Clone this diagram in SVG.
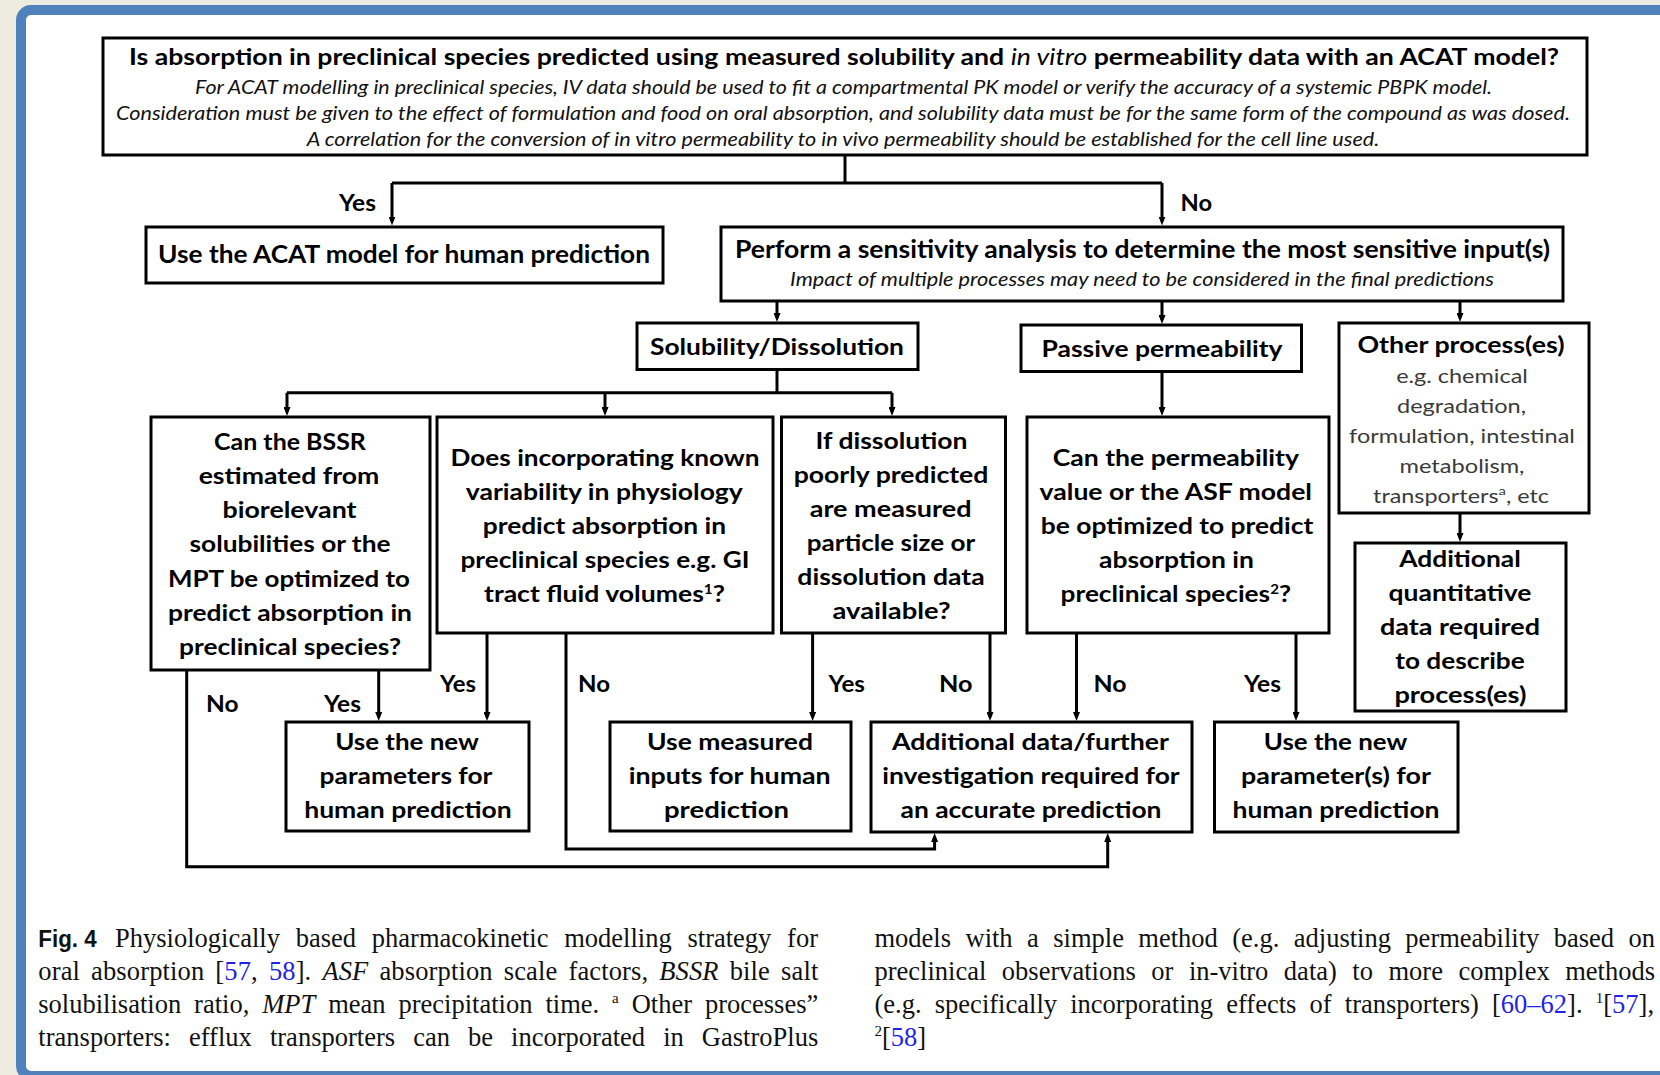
<svg xmlns="http://www.w3.org/2000/svg" width="1660" height="1075" viewBox="0 0 1660 1075">
  <defs>
    <style>
      .bx { fill: #fff; stroke: #000; stroke-width: 3; }
      .ln { fill: none; stroke: #000; stroke-width: 3; }
      .ar { marker-end: url(#ah); }
      .t { font-family: Lato, "Open Sans", "Liberation Sans", sans-serif; font-weight: 700; font-size: 22.5px; fill: #000; text-anchor: middle; }
      .big { font-size: 24px; }
      .it { font-style: italic; font-weight: 400; font-size: 18.5px; fill: #111; }
      .lg { font-weight: 400; font-size: 19px; fill: #3a3a3a; }
      .lbl { font-family: Lato, "Open Sans", "Liberation Sans", sans-serif; font-weight: 700; font-size: 22px; fill: #000; }
      .cap { font-family: "Liberation Serif", "Times New Roman", serif; font-size: 26.5px; fill: #111; }
      .fig { font-family: "Liberation Sans", Arial, sans-serif; font-weight: 700; font-size: 23px; fill: #111; }
      .ref { fill: #2323e6; }
      .em { font-style: italic; }
    </style>
    <marker id="ah" viewBox="0 0 9 7" refX="4.5" refY="3.5" markerWidth="9" markerHeight="7" markerUnits="userSpaceOnUse" orient="auto">
      <path d="M0,0 L9,3.5 L0,7 z" fill="#000"/>
    </marker>
  </defs>

  <!-- page background and framed panel -->
  <rect x="0" y="0" width="1660" height="1075" fill="#EEECE1"/>
  <rect x="21" y="10" width="1700" height="1066" rx="10" fill="#fff" stroke="#4F81BD" stroke-width="10"/>

  <!-- connectors -->
  <g id="connectors">
    <path class="ln" d="M845,155 V183"/>
    <path class="ln" d="M392,183 H1162"/>
    <path class="ln ar" d="M392,183 V221"/>
    <path class="ln ar" d="M1162,183 V221"/>

    <path class="ln ar" d="M777,301 V317.5"/>
    <path class="ln ar" d="M1162,301 V319.5"/>
    <path class="ln ar" d="M1460,301 V317.5"/>

    <path class="ln" d="M777,369.5 V392.7"/>
    <path class="ln" d="M287,392.7 H892"/>
    <path class="ln ar" d="M287,392.7 V411.5"/>
    <path class="ln ar" d="M605,392.7 V411.5"/>
    <path class="ln ar" d="M892,392.7 V411.5"/>

    <path class="ln ar" d="M1162,371.5 V411.5"/>
    <path class="ln ar" d="M1460,513 V537.5"/>

    <path class="ln ar" d="M378.7,670 V716.5"/>
    <path class="ln ar" d="M186.7,670 V866.7 H1107.7 V837.5"/>
    <path class="ln ar" d="M487,633 V716.5"/>
    <path class="ln ar" d="M566,633 V849 H934.6 V837.5"/>
    <path class="ln ar" d="M812.6,633 V716.5"/>
    <path class="ln ar" d="M990,633 V716.5"/>
    <path class="ln ar" d="M1076.5,633 V716.5"/>
    <path class="ln ar" d="M1296,633 V716.5"/>
  </g>

  <!-- branch labels -->
  <g id="labels">
    <text class="lbl" x="339" y="211" textLength="37" lengthAdjust="spacingAndGlyphs">Yes</text>
    <text class="lbl" x="1180.5" y="211" textLength="31.5" lengthAdjust="spacingAndGlyphs">No</text>
    <text class="lbl" x="206" y="711.5" textLength="32.5" lengthAdjust="spacingAndGlyphs">No</text>
    <text class="lbl" x="324" y="711.5" textLength="37" lengthAdjust="spacingAndGlyphs">Yes</text>
    <text class="lbl" x="440" y="692" textLength="36" lengthAdjust="spacingAndGlyphs">Yes</text>
    <text class="lbl" x="578" y="692" textLength="32" lengthAdjust="spacingAndGlyphs">No</text>
    <text class="lbl" x="828.5" y="692" textLength="36.5" lengthAdjust="spacingAndGlyphs">Yes</text>
    <text class="lbl" x="939" y="692" textLength="33.5" lengthAdjust="spacingAndGlyphs">No</text>
    <text class="lbl" x="1093.5" y="692" textLength="33" lengthAdjust="spacingAndGlyphs">No</text>
    <text class="lbl" x="1244" y="692" textLength="37" lengthAdjust="spacingAndGlyphs">Yes</text>
  </g>

  <!-- question at the root -->
  <g id="root-question">
    <rect class="bx" x="103" y="38" width="1484" height="117"/>
    <text class="t" x="844" y="65" textLength="1430" lengthAdjust="spacingAndGlyphs">Is absorption in preclinical species predicted using measured solubility and <tspan font-style="italic" font-weight="400">in vitro</tspan> permeability data with an ACAT model?</text>
    <text class="t it" x="843.5" y="94" textLength="1297" lengthAdjust="spacingAndGlyphs">For ACAT modelling in preclinical species, IV data should be used to fit a compartmental PK model or verify the accuracy of a systemic PBPK model.</text>
    <text class="t it" x="843" y="120" textLength="1454" lengthAdjust="spacingAndGlyphs">Consideration must be given to the effect of formulation and food on oral absorption, and solubility data must be for the same form of the compound as was dosed.</text>
    <text class="t it" x="843" y="146" textLength="1072.5" lengthAdjust="spacingAndGlyphs">A correlation for the conversion of in vitro permeability to in vivo permeability should be established for the cell line used.</text>
  </g>

  <g id="use-acat">
    <rect class="bx" x="146" y="227" width="517" height="56"/>
    <text class="t big" x="404" y="263" textLength="492" lengthAdjust="spacingAndGlyphs">Use the ACAT model for human prediction</text>
  </g>

  <g id="sensitivity">
    <rect class="bx" x="721" y="227" width="842" height="74"/>
    <text class="t big" x="1142.5" y="258" textLength="815" lengthAdjust="spacingAndGlyphs">Perform a sensitivity analysis to determine the most sensitive input(s)</text>
    <text class="t it" x="1142" y="286" textLength="704" lengthAdjust="spacingAndGlyphs">Impact of multiple processes may need to be considered in the final predictions</text>
  </g>

  <g id="solubility">
    <rect class="bx" x="637" y="323" width="281" height="46.5"/>
    <text class="t" x="777" y="355" textLength="254" lengthAdjust="spacingAndGlyphs">Solubility/Dissolution</text>
  </g>

  <g id="passive">
    <rect class="bx" x="1021" y="325" width="280.5" height="46.5"/>
    <text class="t" x="1162" y="357" textLength="241" lengthAdjust="spacingAndGlyphs">Passive permeability</text>
  </g>

  <g id="other">
    <rect class="bx" x="1339" y="323" width="250" height="190"/>
    <text class="t" x="1461" y="352.7" textLength="207" lengthAdjust="spacingAndGlyphs">Other process(es)</text>
    <text class="t lg" x="1462" y="383.3" textLength="131.7" lengthAdjust="spacingAndGlyphs">e.g. chemical</text>
    <text class="t lg" x="1461.5" y="413.3" textLength="129" lengthAdjust="spacingAndGlyphs">degradation,</text>
    <text class="t lg" x="1462" y="443" textLength="225.8" lengthAdjust="spacingAndGlyphs">formulation, intestinal</text>
    <text class="t lg" x="1462" y="473.3" textLength="125" lengthAdjust="spacingAndGlyphs">metabolism,</text>
    <text class="t lg" x="1461" y="503.3" textLength="176" lengthAdjust="spacingAndGlyphs">transporters<tspan font-size="12" dy="-8">a</tspan><tspan dy="8">, etc</tspan></text>
  </g>

  <g id="additional-quantitative">
    <rect class="bx" x="1355" y="543" width="211" height="168"/>
    <text class="t" x="1460" y="567" textLength="121.5" lengthAdjust="spacingAndGlyphs">Additional</text>
    <text class="t" x="1460" y="601" textLength="143" lengthAdjust="spacingAndGlyphs">quantitative</text>
    <text class="t" x="1460" y="635" textLength="160" lengthAdjust="spacingAndGlyphs">data required</text>
    <text class="t" x="1460" y="669" textLength="129.4" lengthAdjust="spacingAndGlyphs">to describe</text>
    <text class="t" x="1460.4" y="703" textLength="132" lengthAdjust="spacingAndGlyphs">process(es)</text>
  </g>

  <g id="bssr-mpt">
    <rect class="bx" x="151" y="417" width="279" height="253"/>
    <text class="t" x="290" y="450" textLength="151.8" lengthAdjust="spacingAndGlyphs">Can the BSSR</text>
    <text class="t" x="289" y="484" textLength="180.7" lengthAdjust="spacingAndGlyphs">estimated from</text>
    <text class="t" x="289.5" y="518" textLength="134" lengthAdjust="spacingAndGlyphs">biorelevant</text>
    <text class="t" x="290" y="552" textLength="201" lengthAdjust="spacingAndGlyphs">solubilities or the</text>
    <text class="t" x="289" y="586.5" textLength="242" lengthAdjust="spacingAndGlyphs">MPT be optimized to</text>
    <text class="t" x="290" y="620.5" textLength="244" lengthAdjust="spacingAndGlyphs">predict absorption in</text>
    <text class="t" x="290" y="654.5" textLength="222" lengthAdjust="spacingAndGlyphs">preclinical species?</text>
  </g>

  <g id="physiology-variability">
    <rect class="bx" x="437" y="417" width="336" height="216"/>
    <text class="t" x="605" y="466" textLength="309" lengthAdjust="spacingAndGlyphs">Does incorporating known</text>
    <text class="t" x="604.3" y="500" textLength="277" lengthAdjust="spacingAndGlyphs">variability in physiology</text>
    <text class="t" x="604.4" y="534" textLength="243.3" lengthAdjust="spacingAndGlyphs">predict absorption in</text>
    <text class="t" x="605" y="568" textLength="289" lengthAdjust="spacingAndGlyphs">preclinical species e.g. GI</text>
    <text class="t" x="604.5" y="602" textLength="241" lengthAdjust="spacingAndGlyphs">tract fluid volumes<tspan font-size="13" dy="-8">1</tspan><tspan dy="8">?</tspan></text>
  </g>

  <g id="dissolution-data">
    <rect class="bx" x="781.5" y="417" width="224" height="216"/>
    <text class="t" x="891.5" y="449" textLength="152" lengthAdjust="spacingAndGlyphs">If dissolution</text>
    <text class="t" x="891" y="483" textLength="194.7" lengthAdjust="spacingAndGlyphs">poorly predicted</text>
    <text class="t" x="890.6" y="517" textLength="161.8" lengthAdjust="spacingAndGlyphs">are measured</text>
    <text class="t" x="891" y="551" textLength="168.5" lengthAdjust="spacingAndGlyphs">particle size or</text>
    <text class="t" x="891" y="585" textLength="187.3" lengthAdjust="spacingAndGlyphs">dissolution data</text>
    <text class="t" x="891.5" y="619" textLength="118" lengthAdjust="spacingAndGlyphs">available?</text>
  </g>

  <g id="permeability-asf">
    <rect class="bx" x="1027" y="417" width="302" height="216"/>
    <text class="t" x="1175.8" y="466" textLength="246.3" lengthAdjust="spacingAndGlyphs">Can the permeability</text>
    <text class="t" x="1175.8" y="500" textLength="272.4" lengthAdjust="spacingAndGlyphs">value or the ASF model</text>
    <text class="t" x="1177" y="534" textLength="272.4" lengthAdjust="spacingAndGlyphs">be optimized to predict</text>
    <text class="t" x="1176.5" y="568" textLength="155" lengthAdjust="spacingAndGlyphs">absorption in</text>
    <text class="t" x="1175.8" y="602" textLength="230.4" lengthAdjust="spacingAndGlyphs">preclinical species<tspan font-size="13" dy="-8">2</tspan><tspan dy="8">?</tspan></text>
  </g>

  <g id="use-new-parameters">
    <rect class="bx" x="286" y="722" width="243" height="109"/>
    <text class="t" x="407" y="750" textLength="143.7" lengthAdjust="spacingAndGlyphs">Use the new</text>
    <text class="t" x="406" y="784" textLength="172.8" lengthAdjust="spacingAndGlyphs">parameters for</text>
    <text class="t" x="408" y="818" textLength="207.6" lengthAdjust="spacingAndGlyphs">human prediction</text>
  </g>

  <g id="use-measured-inputs">
    <rect class="bx" x="610" y="722" width="241" height="109"/>
    <text class="t" x="730" y="750" textLength="166" lengthAdjust="spacingAndGlyphs">Use measured</text>
    <text class="t" x="729.7" y="784" textLength="202" lengthAdjust="spacingAndGlyphs">inputs for human</text>
    <text class="t" x="726.5" y="818" textLength="125" lengthAdjust="spacingAndGlyphs">prediction</text>
  </g>

  <g id="further-investigation">
    <rect class="bx" x="871" y="722" width="321" height="110"/>
    <text class="t" x="1030.5" y="750" textLength="277" lengthAdjust="spacingAndGlyphs">Additional data/further</text>
    <text class="t" x="1031" y="784" textLength="297.4" lengthAdjust="spacingAndGlyphs">investigation required for</text>
    <text class="t" x="1031" y="818" textLength="261" lengthAdjust="spacingAndGlyphs">an accurate prediction</text>
  </g>

  <g id="use-new-parameters-permeability">
    <rect class="bx" x="1214.5" y="722" width="243.5" height="110"/>
    <text class="t" x="1335.5" y="750" textLength="143.5" lengthAdjust="spacingAndGlyphs">Use the new</text>
    <text class="t" x="1336" y="784" textLength="190" lengthAdjust="spacingAndGlyphs">parameter(s) for</text>
    <text class="t" x="1336" y="818" textLength="207" lengthAdjust="spacingAndGlyphs">human prediction</text>
  </g>

  <!-- figure caption, two justified columns -->
  <g id="caption">
    <text class="fig" x="38.3" y="947" textLength="58.4" lengthAdjust="spacingAndGlyphs">Fig. 4</text>
    <text class="cap" x="115" y="947" word-spacing="9.1" textLength="703">Physiologically based pharmacokinetic modelling strategy for</text>
    <text class="cap" x="38.3" y="980" word-spacing="4.3" textLength="780">oral absorption [<tspan class="ref">57</tspan>, <tspan class="ref">58</tspan>]. <tspan class="em">ASF</tspan> absorption scale factors, <tspan class="em">BSSR</tspan> bile salt</text>
    <text class="cap" x="38.3" y="1013" word-spacing="6.3" textLength="780">solubilisation ratio, <tspan class="em">MPT</tspan> mean precipitation time. <tspan font-size="15" dy="-10">a</tspan><tspan dy="10"> Other processes”</tspan></text>
    <text class="cap" x="38.3" y="1046" word-spacing="11.4" textLength="780">transporters: efflux transporters can be incorporated in GastroPlus</text>

    <text class="cap" x="874.5" y="947" word-spacing="7.8" textLength="780.5">models with a simple method (e.g. adjusting permeability based on</text>
    <text class="cap" x="874.5" y="980" word-spacing="8.9" textLength="780.5">preclinical observations or in-vitro data) to more complex methods</text>
    <text class="cap" x="874.5" y="1013" word-spacing="6.5" textLength="779.5">(e.g. specifically incorporating effects of transporters) [<tspan class="ref">60–62</tspan>]. <tspan font-size="15" dy="-10">1</tspan><tspan dy="10">[</tspan><tspan class="ref">57</tspan>],</text>
    <text class="cap" x="874.5" y="1046"><tspan font-size="15" dy="-10">2</tspan><tspan dy="10">[</tspan><tspan class="ref">58</tspan>]</text>
  </g>
</svg>
